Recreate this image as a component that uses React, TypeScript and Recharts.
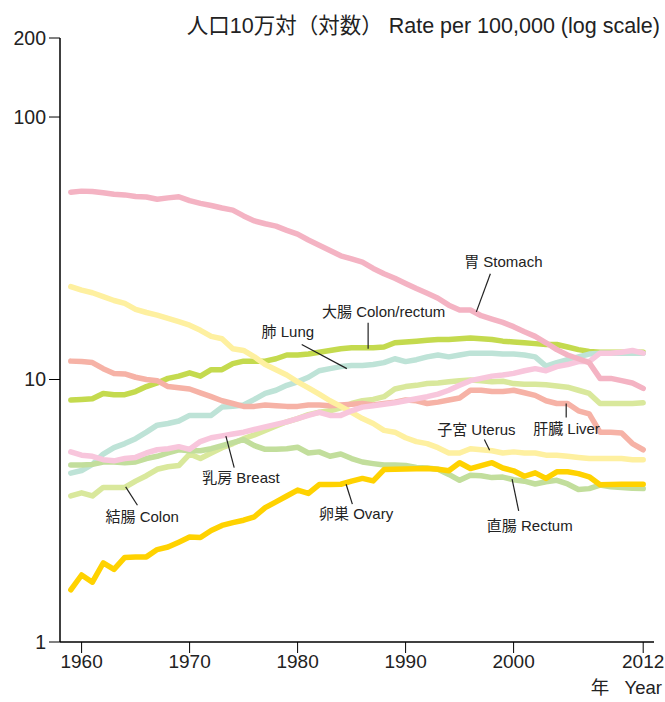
import { LineChart, Line, XAxis, YAxis, ReferenceLine, ReferenceDot } from "recharts";

// years 1959-2012
const years = [
  1959,
  1960, 1961, 1962, 1963, 1964, 1965, 1966, 1967, 1968, 1969,
  1970, 1971, 1972, 1973, 1974, 1975, 1976, 1977, 1978, 1979,
  1980, 1981, 1982, 1983, 1984, 1985, 1986, 1987, 1988, 1989,
  1990, 1991, 1992, 1993, 1994, 1995, 1996, 1997, 1998, 1999,
  2000, 2001, 2002, 2003, 2004, 2005, 2006, 2007, 2008, 2009,
  2010, 2011, 2012,
];

const stomach = [
  51.7,
  52.2, 52.0, 51.5, 50.8, 50.5, 49.8, 49.6, 48.6, 49.2, 49.7,
  48.0, 46.9, 46.0, 45.0, 44.2, 42.0, 40.2, 39.2, 38.4, 37.0,
  35.8, 34.0, 32.5, 31.0, 29.6, 28.8, 28.0, 26.5, 25.3, 24.3,
  23.2, 22.2, 21.3, 20.4, 19.2, 18.4, 18.4, 17.5, 17.0, 16.5,
  15.9, 15.2, 14.6, 13.8, 13.0, 12.4, 12.0, 11.6, 10.1, 10.1,
  9.9, 9.7, 9.25,
];
const colorectum = [
  8.35,
  8.4, 8.45, 8.85, 8.75, 8.75, 9.0, 9.4, 9.7, 10.1, 10.3,
  10.6, 10.3, 10.9, 10.9, 11.5, 11.75, 11.75, 11.75, 12.0, 12.4,
  12.4, 12.5, 12.7, 12.9, 13.1, 13.2, 13.2, 13.2, 13.3, 13.8,
  13.9, 14.0, 14.1, 14.2, 14.2, 14.3, 14.4, 14.3, 14.2, 14.0,
  13.9, 13.8, 13.7, 13.6, 13.6, 13.3, 13.0, 12.8, 12.7, 12.7,
  12.7, 12.7, 12.7,
];
const lung = [
  4.4,
  4.5, 4.75, 5.2, 5.5, 5.7, 5.95, 6.3, 6.7, 6.8, 6.95,
  7.3, 7.3, 7.3, 7.85, 7.9, 8.0, 8.4, 8.85, 9.1, 9.5,
  9.8, 10.2, 10.8, 11.0, 11.2, 11.3, 11.3, 11.4, 11.6, 12.0,
  11.7, 11.9, 12.2, 12.4, 12.2, 12.4, 12.6, 12.6, 12.6, 12.5,
  12.5, 12.4, 12.2, 11.25, 11.6, 11.9, 12.2, 12.5, 12.6, 12.6,
  12.6, 12.6, 12.6,
];
const breast = [
  5.3,
  5.15, 5.1, 4.95, 4.9, 5.0, 5.05, 5.25, 5.4, 5.45, 5.55,
  5.42, 5.8, 6.0, 6.1, 6.2, 6.3, 6.45, 6.6, 6.75, 6.9,
  7.1, 7.3, 7.5, 7.3, 7.3, 7.6, 7.85, 7.95, 8.05, 8.15,
  8.3, 8.45, 8.6, 8.8, 9.1, 9.5, 9.9, 10.1, 10.3, 10.4,
  10.55, 10.8, 11.0, 10.8, 11.2, 11.4, 11.7, 11.7, 12.6, 12.6,
  12.7, 12.9, 12.6,
];
const colon = [
  3.6,
  3.7, 3.6, 3.88, 3.88, 3.88, 4.1, 4.3, 4.55, 4.65, 4.7,
  5.2, 5.0, 5.25, 5.5, 5.7, 5.95, 6.15, 6.4, 6.65, 6.9,
  7.1, 7.35, 7.5, 7.6, 7.8, 8.1, 8.3, 8.4, 8.6, 9.2,
  9.4, 9.5, 9.65, 9.7, 9.8, 9.9, 9.95, 9.9, 9.8, 9.85,
  9.65, 9.6, 9.6, 9.55, 9.45, 9.35, 9.1, 8.85, 8.1, 8.1,
  8.1, 8.1, 8.15,
];
const uterus = [
  22.6,
  21.9, 21.4, 20.7, 20.0, 19.5, 18.5, 18.0, 17.6, 17.1, 16.6,
  16.1, 15.4, 14.6, 14.3, 13.1, 12.9, 12.2, 11.4, 10.9, 10.4,
  9.8, 9.3, 8.8, 8.3, 7.9, 7.5, 7.1, 6.8, 6.4, 6.3,
  6.0, 5.8, 5.7, 5.5, 5.25, 5.25, 5.45, 5.4, 5.35, 5.25,
  5.3, 5.25, 5.25, 5.15, 5.15, 5.1, 5.05, 5.0, 5.0, 5.0,
  5.0, 4.95, 4.95,
];
const liver = [
  11.75,
  11.7, 11.6, 11.0, 10.55, 10.5, 10.2, 10.0, 9.9, 9.4, 9.3,
  9.2, 8.9, 8.6, 8.3, 8.1, 7.9, 7.9, 8.0, 7.95, 7.9,
  7.9, 8.0, 8.0, 7.95, 8.0, 8.05, 8.1, 8.0, 8.1, 8.2,
  8.35, 8.3, 8.1, 8.2, 8.35, 8.5, 9.1, 9.1, 9.0, 9.0,
  9.1, 8.9, 8.7, 8.3, 8.1, 8.1, 7.6, 7.4, 6.3, 6.3,
  6.25, 5.7, 5.4,
];
const rectum = [
  4.72,
  4.72, 4.75, 4.85, 4.85, 4.82, 4.85, 5.0, 5.1, 5.25, 5.4,
  5.35, 5.35, 5.45, 5.6, 5.75, 5.9, 5.6, 5.42, 5.42, 5.45,
  5.52, 5.25, 5.3, 5.1, 5.2, 5.0, 4.85, 4.78, 4.72, 4.72,
  4.7, 4.62, 4.6, 4.55, 4.35, 4.13, 4.32, 4.3, 4.23, 4.25,
  4.15, 4.1, 4.0, 4.08, 4.13, 4.0, 3.81, 3.84, 3.96, 3.9,
  3.88, 3.85, 3.84,
];
const ovary = [
  1.58,
  1.8, 1.69, 2.0, 1.89, 2.1, 2.11, 2.11, 2.25, 2.3, 2.4,
  2.51, 2.5, 2.66, 2.78, 2.85, 2.91, 3.0, 3.25, 3.42, 3.6,
  3.79, 3.68, 3.98, 3.98, 3.99, 4.1, 4.2, 4.11, 4.54, 4.55,
  4.56, 4.57, 4.58, 4.55, 4.49, 4.82, 4.58, 4.7, 4.82, 4.6,
  4.49, 4.28, 4.41, 4.2, 4.45, 4.45, 4.38, 4.26, 3.97, 3.98,
  3.99, 3.99, 3.99,
];

const xTicks = [1960, 1970, 1980, 1990, 2000, 2012];
const yTicks = [1, 10, 100, 200];

// label text position (year, value) and leader line from -> to
const labels = [
  { text: "胃 Stomach", x: 1999.05, y: 28.0, from: [1997.85, 25.3], to: [1996.55, 18.1] },
  { text: "大腸 Colon/rectum", x: 1987.97, y: 18.1, from: [1986.53, 16.45], to: [1986.53, 13.1] },
  { text: "肺 Lung", x: 1979.1, y: 15.2, from: [1980.38, 13.6], to: [1984.56, 11.0] },
  { text: "乳房 Breast", x: 1974.75, y: 4.23, from: [1973.36, 6.09], to: [1974.13, 4.62] },
  { text: "結腸 Colon", x: 1965.61, y: 3.0, from: [1964.08, 3.9], to: [1965.17, 3.32] },
  { text: "卵巣 Ovary", x: 1985.42, y: 3.09, from: [1984.49, 3.99], to: [1985.07, 3.35] },
  { text: "直腸 Rectum", x: 2001.5, y: 2.78, from: [1999.86, 4.17], to: [2000.47, 3.16] },
  { text: "子宮 Uterus", x: 1996.55, y: 6.45, from: [1997.29, 5.91], to: [1997.78, 5.38] },
  { text: "肝臓 Liver", x: 2004.9, y: 6.51, from: [2004.87, 8.11], to: [2004.87, 7.17] },
];

const series = [
  { key: "colorectum", color: "#c4da4e" },
  { key: "lung", color: "#bee3d7" },
  { key: "colon", color: "#d9e89c" },
  { key: "rectum", color: "#c2de9c" },
  { key: "liver", color: "#f6b2a6" },
  { key: "uterus", color: "#fef0a0" },
  { key: "breast", color: "#f8c6dc" },
  { key: "stomach", color: "#f4b3c3" },
  { key: "ovary", color: "#ffd200" },
];

const data = years.map((year, i) => ({
  year,
  stomach: stomach[i],
  colorectum: colorectum[i],
  lung: lung[i],
  breast: breast[i],
  colon: colon[i],
  uterus: uterus[i],
  liver: liver[i],
  rectum: rectum[i],
  ovary: ovary[i],
}));

const font = "'Liberation Sans', Arial, 'Noto Sans CJK JP', sans-serif";

export default function App() {
  return (
    <div style={{ position: "absolute", left: 0, top: 0, width: 665, height: 702, overflow: "hidden", fontFamily: font, background: "#fff" }}>
      <div style={{ position: "absolute", right: 5, top: 8, fontSize: 21.5, color: "#222", whiteSpace: "nowrap" }}>
        人口10万対（対数） Rate per 100,000 (log scale)
      </div>
      <div style={{ position: "absolute", right: 3, top: 678, fontSize: 18.5, lineHeight: "20px", color: "#222", whiteSpace: "nowrap" }}>
        年&nbsp;&nbsp;&nbsp;Year
      </div>
      <LineChart width={665} height={702} data={data} margin={{ top: 38, right: 11, bottom: 0, left: 0 }}>
        <XAxis
          dataKey="year"
          type="number"
          domain={[1958, 2013]}
          ticks={xTicks}
          allowDataOverflow
          height={60}
          tickSize={11}
          tickMargin={2}
          axisLine={{ stroke: "#000", strokeWidth: 1.5 }}
          tickLine={{ stroke: "#000" }}
          tick={{ fill: "#222", fontSize: 19, fontFamily: font }}
        />
        <XAxis
          xAxisId="top"
          orientation="top"
          dataKey="year"
          type="number"
          domain={[1958, 2013]}
          height={0}
          tick={false}
          tickLine={false}
          axisLine={{ stroke: "#000", strokeWidth: 1.5 }}
        />
        <YAxis
          type="number"
          scale="log"
          domain={[1, 200]}
          ticks={yTicks}
          allowDataOverflow
          width={60}
          tickSize={11}
          tickMargin={3}
          axisLine={{ stroke: "#000", strokeWidth: 1.5 }}
          tickLine={{ stroke: "#000" }}
          tick={{ fill: "#222", fontSize: 19.5, fontFamily: font }}
        />
        <YAxis
          yAxisId="right"
          orientation="right"
          type="number"
          domain={[0, 1]}
          width={0}
          tick={false}
          tickLine={false}
          axisLine={{ stroke: "#000", strokeWidth: 1.5 }}
        />
        {series.map((s) => (
          <Line
            key={s.key}
            dataKey={s.key}
            type="linear"
            stroke={s.color}
            strokeWidth={5.5}
            strokeLinejoin="round"
            strokeLinecap="round"
            dot={false}
            activeDot={false}
            isAnimationActive={false}
          />
        ))}
        {labels.map((l) => (
          <ReferenceLine
            key={"seg" + l.text}
            segment={[{ x: l.from[0], y: l.from[1] }, { x: l.to[0], y: l.to[1] }]}
            stroke="#222"
            strokeWidth={1.2}
          />
        ))}
        {labels.map((l) => (
          <ReferenceDot
            key={"lbl" + l.text}
            x={l.x}
            y={l.y}
            r={0}
            stroke="none"
            fill="none"
            label={{ value: l.text, position: "center", fill: "#222", fontSize: 15, fontFamily: font }}
          />
        ))}
      </LineChart>
    </div>
  );
}
